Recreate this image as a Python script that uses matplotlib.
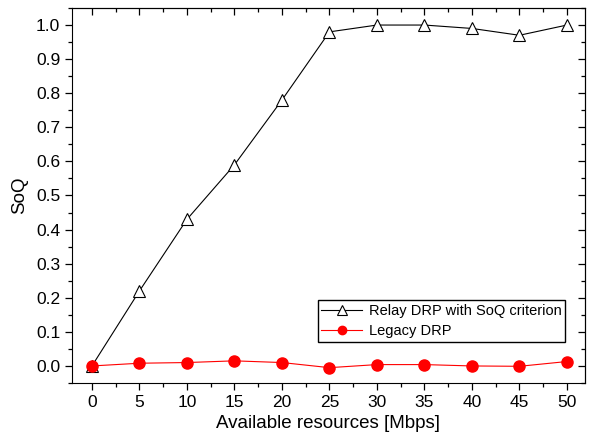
import numpy as np
import matplotlib.pyplot as plt
from matplotlib.ticker import MultipleLocator

plt.rcParams['font.family'] = ['Liberation Sans', 'DejaVu Sans']

resources = [0, 5, 10, 15, 20, 25, 30, 35, 40, 45, 50]
relay_soq = [0.0, 0.22, 0.43, 0.59, 0.78, 0.98, 1.0, 1.0, 0.99, 0.97, 1.0]
legacy_soq = [0.0, 0.008, 0.01, 0.015, 0.01, -0.005, 0.004, 0.004, 0.0, -0.001, 0.013]

fig = plt.figure(figsize=(5.91, 4.44), dpi=100)
ax = fig.add_axes([72/591, 61/444, 513/591, 375/444])

ax.plot(resources, relay_soq, color='black', lw=0.8, marker='^', ms=9,
        mfc='white', mec='black', mew=0.8, label='Relay DRP with SoQ criterion')
ax.plot(resources, legacy_soq, color='red', lw=0.8, marker='o', ms=8,
        mfc='red', mec='red', label='Legacy DRP')

ax.set_xlim(-2.1, 51.9)
ax.set_ylim(-0.05, 1.05)

# major/minor ticks: outward on bottom/left, inward on top/right
def set_ticks(axis_obj, major, minor):
    axis_obj.set_major_locator(MultipleLocator(major))
    axis_obj.set_minor_locator(MultipleLocator(minor))

set_ticks(ax.xaxis, 5, 2.5)
set_ticks(ax.yaxis, 0.1, 0.05)
ax.yaxis.set_major_formatter(plt.FormatStrFormatter('%.1f'))
ax.tick_params(which='both', direction='out', top=False, right=False,
               labelsize=12.5, width=0.9)
ax.tick_params(which='major', length=5)
ax.tick_params(which='minor', length=3)

ax2 = ax.secondary_xaxis('top')
set_ticks(ax2.xaxis, 5, 2.5)
ax3 = ax.secondary_yaxis('right')
set_ticks(ax3.yaxis, 0.1, 0.05)
for a in (ax2, ax3):
    a.tick_params(which='both', direction='in', labeltop=False,
                  labelright=False, width=0.9)
    a.tick_params(which='major', length=5)
    a.tick_params(which='minor', length=3)

ax.set_xlabel('Available resources [Mbps]', fontsize=13.5, labelpad=4)
ax.set_ylabel('SoQ', fontsize=13.5, labelpad=6)

ax.legend(loc='lower right', bbox_to_anchor=(0.961, 0.109), fontsize=10.5,
          fancybox=False, edgecolor='black', framealpha=1, borderpad=0.25,
          handlelength=2.8, handletextpad=0.45, labelspacing=0.45,
          markerscale=0.75, borderaxespad=0)

fig.savefig('out.png', dpi=100)
